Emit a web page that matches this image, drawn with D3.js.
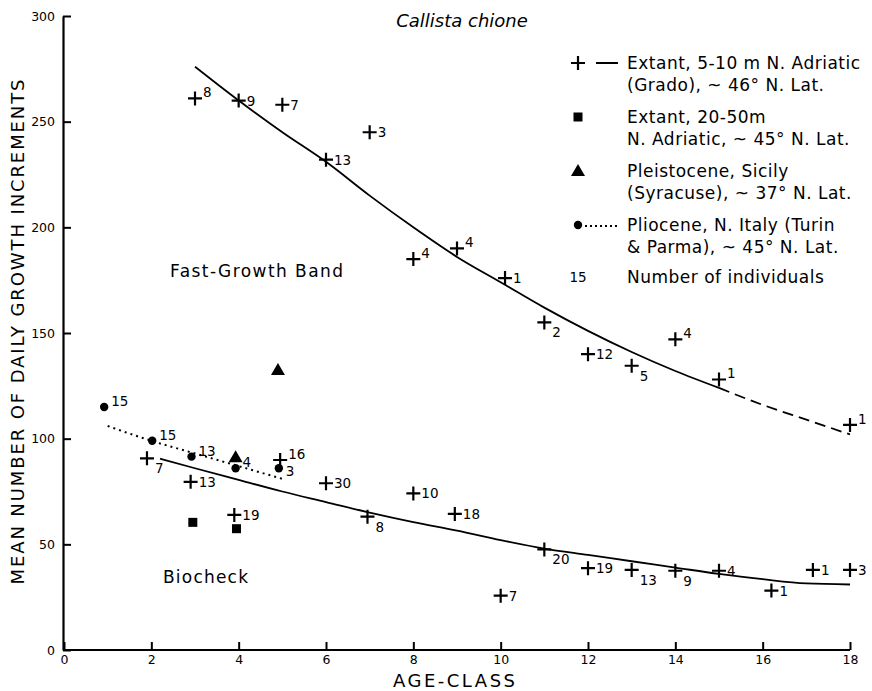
<!DOCTYPE html>
<html>
<head>
<meta charset="utf-8">
<script src="https://cdn.jsdelivr.net/npm/d3@7/dist/d3.min.js"></script>
<style>
body { margin: 0; background: #fff; }
text { font-family: "DejaVu Sans", sans-serif; fill: #000; }
</style>
</head>
<body>
<script>
// extant 5-10 m (Grado), fast-growth band
var fastAge = [3, 4, 5, 6, 7, 8, 9, 10.1, 11, 12, 13, 14, 15, 18];
var fastVal = [261, 260, 258, 232, 245, 185, 190, 176, 155, 140, 134.5, 147, 128, 106.5];
var fastN = ["8", "9", "7", "13", "3", "4", "4", "1", "2", "12", "5", "4", "1", "1"];
var fastSide = ["ur", "r", "r", "r", "r", "ur", "ur", "r", "lr", "r", "lr", "ur", "ur", "ur"];

// extant 5-10 m (Grado), biocheck
var bioAge = [1.9, 2.9, 3.9, 4.95, 6, 6.95, 8, 8.95, 10, 11, 12, 13, 14, 15, 16.2, 17.15, 18];
var bioVal = [90.7, 79.6, 63.9, 89.9, 78.9, 63.1, 74.1, 64.4, 25.7, 47.6, 38.7, 37.9, 37.5, 37.5, 28.1, 37.9, 37.9];
var bioN = ["7", "13", "19", "16", "30", "8", "10", "18", "7", "20", "19", "13", "9", "4", "1", "1", "3"];
var bioSide = ["lr", "r", "r", "ur", "r", "lr", "r", "r", "r", "lr", "r", "lr", "lr", "r", "r", "r", "r"];

// extant 20-50 m
var deepAge = [2.95, 3.95];
var deepVal = [60.4, 57.4];

// pleistocene, Sicily
var pleiAge = [4.9, 3.93];
var pleiVal = [132, 90.7];

// pliocene, N. Italy
var plioAge = [0.92, 2.02, 2.92, 3.93, 4.92];
var plioVal = [115, 99, 91.5, 86, 86];
var plioN = ["15", "15", "13", "4", "3"];
var plioSide = ["ur", "ur", "ur", "ur", "dr"];

// fitted curves
var fastCurveAge = [3, 4, 5, 6, 7, 8, 9, 10, 11, 12, 13, 14, 15];
var fastCurveVal = [276, 260, 245, 231, 215, 200, 186, 174, 162, 151, 141, 132, 124];
var fastDashAge = [15, 16, 17, 18];
var fastDashVal = [124, 116, 109, 102];
var bioCurveAge = [2.2, 3, 4, 5, 6, 7, 8, 9, 10, 11, 12, 13, 14, 15, 16, 17, 18];
var bioCurveVal = [90.5, 86, 80.5, 75, 70, 65, 60.5, 56.5, 52, 48, 45, 42, 39, 36, 33.5, 31.5, 31];
var plioCurveAge = [1, 2, 3, 4, 5];
var plioCurveVal = [106, 99, 93, 87, 81];

var xTicks = [0, 2, 4, 6, 8, 10, 12, 14, 16, 18];
var yTicks = [0, 50, 100, 150, 200, 250, 300];

var legendLines = [
    ["Extant, 5-10 m  N. Adriatic", "(Grado), ~ 46° N. Lat."],
    ["Extant, 20-50m", "N. Adriatic, ~ 45° N. Lat."],
    ["Pleistocene, Sicily", "(Syracuse), ~ 37° N. Lat."],
    ["Pliocene, N. Italy (Turin", "& Parma), ~ 45° N. Lat."],
    ["Number of individuals"]
];

var w = 872;
var h = 691;

var svg = d3.select("body")
    .append("svg")
    .attr("width", w)
    .attr("height", h);

var x = d3.scaleLinear().domain([0, 18]).range([64, 850]);
var y = d3.scaleLinear().domain([0, 300]).range([650, 16]);

// axes, ticks pointing inward
var yAxis = svg.append("g")
    .attr("transform", "translate(63,0)")
    .call(d3.axisLeft(y).tickValues(yTicks).tickSize(-8).tickSizeOuter(0).tickPadding(8));
var xAxis = svg.append("g")
    .attr("transform", "translate(0,650)")
    .call(d3.axisBottom(x).tickValues(xTicks).tickSize(-8).tickSizeOuter(0).tickPadding(5));

[xAxis, yAxis].forEach(function (g) {
    g.select(".domain").attr("stroke", "#000").attr("stroke-width", 2.2);
    g.selectAll(".tick line").attr("stroke", "#000").attr("stroke-width", 2);
    g.selectAll(".tick text")
        .style("font-family", "DejaVu Sans, sans-serif")
        .style("font-size", "12.5px")
        .attr("fill", "#000");
});
xAxis.select(".domain").attr("d", "M63,0H850");

// axis titles
svg.append("text")
    .attr("transform", "translate(24,332) rotate(-90)")
    .attr("text-anchor", "middle")
    .attr("textLength", 505)
    .attr("lengthAdjust", "spacing")
    .style("font-size", "18px")
    .text("MEAN NUMBER OF DAILY GROWTH INCREMENTS");

svg.append("text")
    .attr("x", 454)
    .attr("y", 687)
    .attr("text-anchor", "middle")
    .attr("textLength", 122)
    .attr("lengthAdjust", "spacing")
    .style("font-size", "18px")
    .text("AGE-CLASS");

svg.append("text")
    .attr("x", 462)
    .attr("y", 27)
    .attr("text-anchor", "middle")
    .style("font-size", "18px")
    .style("font-style", "italic")
    .text("Callista chione");

svg.append("text")
    .attr("x", 170)
    .attr("y", 277)
    .attr("textLength", 173)
    .attr("lengthAdjust", "spacing")
    .style("font-size", "17px")
    .text("Fast-Growth Band");

svg.append("text")
    .attr("x", 163)
    .attr("y", 583)
    .attr("textLength", 85)
    .attr("lengthAdjust", "spacing")
    .style("font-size", "17px")
    .text("Biocheck");

// curves
var line = d3.line()
    .x(function (d) { return x(d[0]); })
    .y(function (d) { return y(d[1]); })
    .curve(d3.curveMonotoneX);

function curve(ages, vals, dash) {
    svg.append("path")
        .datum(d3.zip(ages, vals))
        .attr("d", line)
        .attr("fill", "none")
        .attr("stroke", "#000")
        .attr("stroke-width", dash === "2,4" ? 2 : 1.8)
        .attr("stroke-dasharray", dash);
}
curve(fastCurveAge, fastCurveVal, null);
curve(fastDashAge, fastDashVal, "11,6");
curve(bioCurveAge, bioCurveVal, null);
curve(plioCurveAge, plioCurveVal, "2,4");

// point markers
function crosses(ages, vals) {
    var g = svg.append("g");
    g.selectAll("path")
        .data(d3.zip(ages, vals))
        .enter()
        .append("path")
        .attr("d", function (d) {
            var cx = x(d[0]), cy = y(d[1]);
            return "M" + (cx - 7) + "," + cy + "H" + (cx + 7) + "M" + cx + "," + (cy - 7) + "V" + (cy + 7);
        })
        .attr("stroke", "#000")
        .attr("stroke-width", 2.2);
}

var sideOff = { ur: -6, r: 0, dr: 3, lr: 10 };

function labels(ages, vals, ns, sides, gap) {
    svg.append("g").selectAll("text")
        .data(d3.zip(ages, vals, ns, sides))
        .enter()
        .append("text")
        .attr("x", function (d) { return x(d[0]) + gap; })
        .attr("y", function (d) { return y(d[1]) + sideOff[d[3]]; })
        .attr("dominant-baseline", "central")
        .style("font-size", "13.5px")
        .text(function (d) { return d[2]; });
}

crosses(fastAge, fastVal);
crosses(bioAge, bioVal);
labels(fastAge, fastVal, fastN, fastSide, 8);
labels(bioAge, bioVal, bioN, bioSide, 8);

svg.append("g").selectAll("rect")
    .data(d3.zip(deepAge, deepVal))
    .enter()
    .append("rect")
    .attr("x", function (d) { return x(d[0]) - 4.5; })
    .attr("y", function (d) { return y(d[1]) - 4.5; })
    .attr("width", 9)
    .attr("height", 9)
    .attr("fill", "#000");

var tri = d3.symbol().type(d3.symbolTriangle).size(85);
svg.append("g").selectAll("path")
    .data(d3.zip(pleiAge, pleiVal))
    .enter()
    .append("path")
    .attr("transform", function (d) { return "translate(" + x(d[0]) + "," + y(d[1]) + ")"; })
    .attr("d", tri)
    .attr("fill", "#000");

svg.append("g").selectAll("circle")
    .data(d3.zip(plioAge, plioVal))
    .enter()
    .append("circle")
    .attr("cx", function (d) { return x(d[0]); })
    .attr("cy", function (d) { return y(d[1]); })
    .attr("r", 4.2)
    .attr("fill", "#000");
labels(plioAge, plioVal, plioN, plioSide, 7);

// legend
var lx = 578;
var lg = svg.append("g");
var rowY = [63, 117, 171, 225, 277];
lg.append("path")
    .attr("d", "M" + (lx - 7) + "," + rowY[0] + "H" + (lx + 7) + "M" + lx + "," + (rowY[0] - 7) + "V" + (rowY[0] + 7)
        + "M596," + rowY[0] + "H618")
    .attr("stroke", "#000").attr("stroke-width", 2.2);
lg.append("rect").attr("x", lx - 4.5).attr("y", rowY[1] - 4.5).attr("width", 9).attr("height", 9);
lg.append("path").attr("transform", "translate(" + lx + "," + (rowY[2] + 1) + ")").attr("d", tri);
lg.append("circle").attr("cx", lx).attr("cy", rowY[3]).attr("r", 4.2);
lg.append("path").attr("d", "M585," + (rowY[3] + 1) + "H620")
    .attr("stroke", "#000").attr("stroke-width", 1.8).attr("stroke-dasharray", "2,3");
lg.append("text").attr("x", lx).attr("y", rowY[4]).attr("text-anchor", "middle")
    .attr("dominant-baseline", "central").style("font-size", "13.5px").text("15");

legendLines.forEach(function (rows, i) {
    rows.forEach(function (t, j) {
        lg.append("text")
            .attr("x", 627)
            .attr("y", rowY[i] + j * 22)
            .attr("dominant-baseline", "central")
            .style("font-size", "17px")
            .style("letter-spacing", "0.5px")
            .text(t);
    });
});
</script>
</body>
</html>
